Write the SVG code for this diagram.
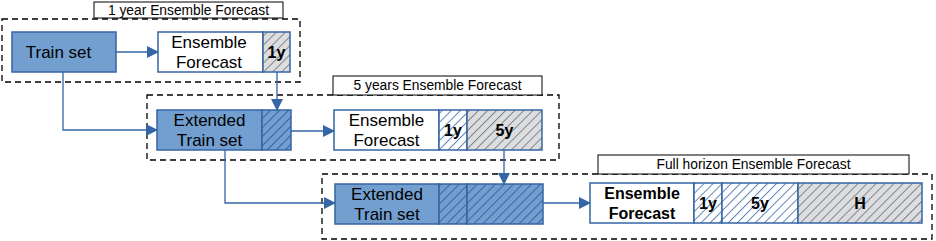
<svg xmlns="http://www.w3.org/2000/svg" width="936" height="241" viewBox="0 0 936 241">
<defs>
<pattern id="hb" patternUnits="userSpaceOnUse" width="6.4" height="10" patternTransform="rotate(45)">
<rect width="6.4" height="10" fill="#729fcf"/>
<line x1="0.5" y1="0" x2="0.5" y2="10" stroke="#3465a4" stroke-width="1"/>
</pattern>
<pattern id="hw" patternUnits="userSpaceOnUse" width="6.4" height="10" patternTransform="rotate(45)">
<rect width="6.4" height="10" fill="#ffffff"/>
<line x1="0.5" y1="0" x2="0.5" y2="10" stroke="#3465a4" stroke-width="0.8"/>
</pattern>
<pattern id="hg" patternUnits="userSpaceOnUse" width="6.4" height="10" patternTransform="rotate(45)">
<rect width="6.4" height="10" fill="#dddddd"/>
<line x1="0.5" y1="0" x2="0.5" y2="10" stroke="#5a6a80" stroke-width="0.8"/>
</pattern>
<marker id="ar" markerWidth="12" markerHeight="12" refX="11" refY="6" orient="auto" markerUnits="userSpaceOnUse">
<path d="M0,0 L12,6 L0,12 Z" fill="#3465a4"/>
</marker>
</defs>
<style>
.dash{fill:none;stroke:#000;stroke-width:1.3;stroke-dasharray:6 4}
.lbl{fill:#fff;stroke:#000;stroke-width:1}
.lt{font-family:"Liberation Sans",Arial,sans-serif;font-size:13.8px;fill:#000;text-anchor:middle}
.blue{fill:#729fcf;stroke:#3465a4;stroke-width:1.5}
.wht{fill:#fff;stroke:#3465a4;stroke-width:1.5}
.t{font-family:"Liberation Sans",Arial,sans-serif;font-size:17px;fill:#000;text-anchor:middle}
.b{font-family:"Liberation Sans",Arial,sans-serif;font-size:16px;font-weight:bold;fill:#000;text-anchor:middle}
.c{fill:none;stroke:#3465a4;stroke-width:1.3}
</style>
<g id="group1">
<rect class="dash" x="2" y="19" width="298" height="63"/>
<rect class="lbl" x="94" y="2" width="189" height="16"/>
<text class="lt" x="188.5" y="15">1 year Ensemble Forecast</text>
</g>
<g id="group2">
<rect class="dash" x="147" y="95" width="412" height="65"/>
<rect class="lbl" x="333" y="76" width="209" height="19"/>
<text class="lt" x="437.5" y="90">5 years Ensemble Forecast</text>
</g>
<g id="group3">
<rect class="dash" x="322" y="174" width="610" height="65"/>
<rect class="lbl" x="598" y="155" width="311" height="19"/>
<text class="lt" x="753.5" y="169">Full horizon Ensemble Forecast</text>
</g>
<g id="trainset">
<rect class="blue" x="12" y="32" width="104" height="40"/>
<text class="t" x="58.5" y="58">Train set</text>
</g>
<g id="forecast1">
<rect class="wht" x="158" y="32" width="105" height="40"/>
<text class="t" x="209" y="48">Ensemble</text>
<text class="t" x="209" y="68">Forecast</text>
<rect x="263" y="32" width="27" height="40" fill="url(#hg)" stroke="#3465a4" stroke-width="1.5"/>
<text class="b" x="276.5" y="58">1y</text>
</g>
<g id="extended1">
<rect class="blue" x="157" y="110" width="105" height="40"/>
<text class="t" x="209.5" y="126">Extended</text>
<text class="t" x="209.5" y="146">Train set</text>
<rect x="262" y="110" width="29" height="40" fill="url(#hb)" stroke="#3465a4" stroke-width="1.5"/>
</g>
<g id="forecast2">
<rect class="wht" x="334" y="110" width="105" height="40"/>
<text class="t" x="386.5" y="126">Ensemble</text>
<text class="t" x="386.5" y="146">Forecast</text>
<rect x="439" y="110" width="28" height="40" fill="url(#hw)" stroke="#3465a4" stroke-width="1.5"/>
<text class="b" x="453" y="136">1y</text>
<rect x="467" y="110" width="75" height="40" fill="url(#hg)" stroke="#3465a4" stroke-width="1.5"/>
<text class="b" x="504.5" y="136">5y</text>
</g>
<g id="extended2">
<rect class="blue" x="335" y="184" width="104" height="40"/>
<text class="t" x="387" y="200">Extended</text>
<text class="t" x="387" y="220">Train set</text>
<rect x="439" y="184" width="28" height="40" fill="url(#hb)" stroke="#3465a4" stroke-width="1.5"/>
<rect x="467" y="184" width="76" height="40" fill="url(#hb)" stroke="#3465a4" stroke-width="1.5"/>
</g>
<g id="forecast3">
<rect class="wht" x="590" y="183" width="104" height="40"/>
<text class="b" x="642" y="199">Ensemble</text>
<text class="b" x="642" y="219">Forecast</text>
<rect x="694" y="183" width="28" height="40" fill="url(#hw)" stroke="#3465a4" stroke-width="1.5"/>
<text class="b" x="708" y="209">1y</text>
<rect x="722" y="183" width="76" height="40" fill="url(#hw)" stroke="#3465a4" stroke-width="1.5"/>
<text class="b" x="760" y="209">5y</text>
<rect x="798" y="183" width="124" height="40" fill="url(#hg)" stroke="#3465a4" stroke-width="1.5"/>
<text class="b" x="860" y="209">H</text>
</g>
<g id="connectors">
<path class="c" d="M116,52 H158" marker-end="url(#ar)"/>
<path class="c" d="M63,72 V130 H157" marker-end="url(#ar)"/>
<path class="c" d="M277,72 V110" marker-end="url(#ar)"/>
<path class="c" d="M291,131 H334" marker-end="url(#ar)"/>
<path class="c" d="M225,150 V203 H335" marker-end="url(#ar)"/>
<path class="c" d="M504,150 V184" marker-end="url(#ar)"/>
<path class="c" d="M543,203 H590" marker-end="url(#ar)"/>
</g>
</svg>
